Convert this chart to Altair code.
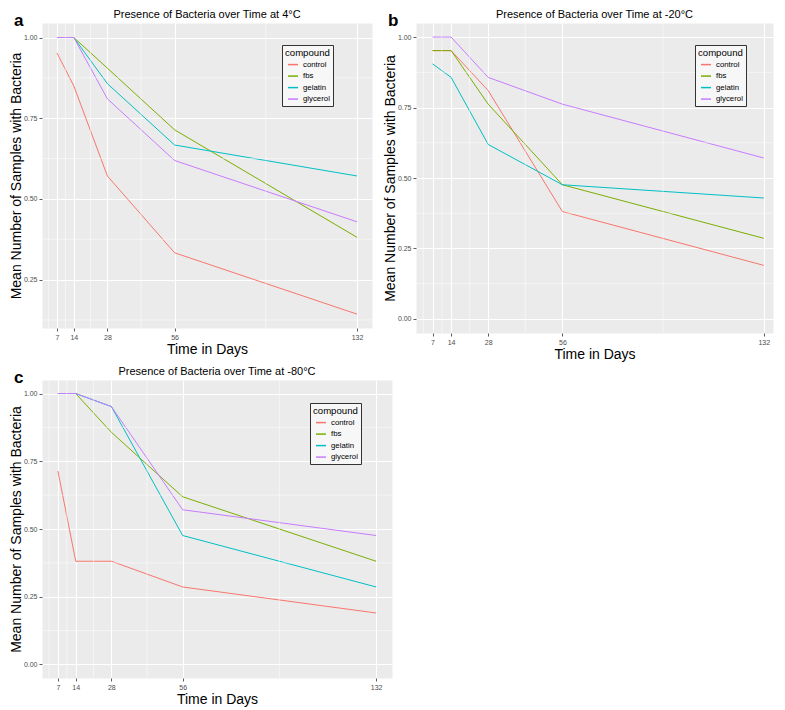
import altair as alt
import pandas as pd

days = [7, 14, 28, 56, 132]
compounds = ["control", "fbs", "gelatin", "glycerol"]
colors = ["#F8766D", "#7CAE00", "#00BFC4", "#C77CFF"]

# Panel a: 4°C
a_control = [0.952, 0.850, 0.571, 0.333, 0.143]
a_fbs = [1.0, 1.0, 0.905, 0.714, 0.381]
a_gelatin = [1.0, 1.0, 0.857, 0.667, 0.571]
a_glycerol = [1.0, 1.0, 0.810, 0.619, 0.429]

# Panel b: -20°C
b_control = [0.952, 0.952, 0.810, 0.381, 0.190]
b_fbs = [0.952, 0.952, 0.762, 0.476, 0.286]
b_gelatin = [0.905, 0.857, 0.619, 0.476, 0.429]
b_glycerol = [1.0, 1.0, 0.857, 0.762, 0.571]

# Panel c: -80°C
c_control = [0.714, 0.381, 0.381, 0.286, 0.190]
c_fbs = [1.0, 1.0, 0.857, 0.619, 0.381]
c_gelatin = [1.0, 1.0, 0.952, 0.476, 0.286]
c_glycerol = [1.0, 1.0, 0.952, 0.571, 0.476]

x_ticks = [7, 14, 28, 56, 132]
x_minor = [3.5, 10.5, 21, 42, 94]
x_domain = [0.75, 138.25]
b_x_domain = [0.75, 135.5]
a_y_ticks = [0.25, 0.5, 0.75, 1.0]
a_y_minor = [0.125, 0.375, 0.625, 0.875]
a_y_domain = [0.1, 1.045]
bc_y_ticks = [0.0, 0.25, 0.5, 0.75, 1.0]
bc_y_minor = [0.125, 0.375, 0.625, 0.875]
bc_y_domain = [-0.05, 1.05]

FONT = "Liberation Sans"
X_TITLE = "Time in Days"
Y_TITLE = "Mean Number of Samples with Bacteria"


def long_df(series):
    rows = []
    for comp, vals in zip(compounds, series):
        for d, v in zip(days, vals):
            rows.append({"day": d, "value": v, "compound": comp})
    return pd.DataFrame(rows)


def panel(letter, title, series, xdom, y_domain, y_ticks, y_minor, width, height, lx, ly):
    xs = alt.Scale(domain=xdom, nice=False, zero=False)
    ys = alt.Scale(domain=y_domain, nice=False, zero=False)
    xax = alt.Axis(values=x_ticks, title=X_TITLE, format="d", titlePadding=2)
    yax = alt.Axis(values=y_ticks, title=Y_TITLE, format=".2f", titlePadding=0)
    df = long_df(series)

    lines = alt.Chart(df).mark_line(strokeWidth=1, clip=True).encode(
        x=alt.X("day:Q", scale=xs, axis=xax),
        y=alt.Y("value:Q", scale=ys, axis=yax),
        color=alt.Color("compound:N",
                        scale=alt.Scale(domain=compounds, range=colors),
                        legend=alt.Legend(orient="none", legendX=lx, legendY=ly,
                                          title="compound")),
    )
    xminor = alt.Chart(pd.DataFrame({"day": x_minor})).mark_rule(
        color="white", strokeWidth=0.5, clip=True
    ).encode(x=alt.X("day:Q", scale=xs, axis=xax))
    yminor = alt.Chart(pd.DataFrame({"value": y_minor})).mark_rule(
        color="white", strokeWidth=0.5, clip=True
    ).encode(y=alt.Y("value:Q", scale=ys, axis=yax))

    lab = alt.Chart(pd.DataFrame({"t": [letter]})).mark_text(
        font=FONT, fontSize=17, fontWeight="bold", align="left", baseline="alphabetic",
        color="black"
    ).encode(x=alt.value(-28), y=alt.value(3), text="t:N")

    return alt.layer(lines, xminor, yminor, lab).properties(
        width=width, height=height,
        title=alt.TitleParams(title, fontSize=11, font=FONT, fontWeight="normal",
                              offset=-8, anchor="middle", color="black"),
    )


pa = panel("a", "Presence of Bacteria over Time at 4°C",
           [a_control, a_fbs, a_gelatin, a_glycerol], x_domain,
           a_y_domain, a_y_ticks, a_y_minor, 330, 305, 240, 22)
pb = panel("b", "Presence of Bacteria over Time at -20°C",
           [b_control, b_fbs, b_gelatin, b_glycerol], b_x_domain,
           bc_y_domain, bc_y_ticks, bc_y_minor, 357, 310, 279, 22)
pc = panel("c", "Presence of Bacteria over Time at -80°C",
           [c_control, c_fbs, c_gelatin, c_glycerol], x_domain,
           bc_y_domain, bc_y_ticks, bc_y_minor, 350, 298, 268, 23)

top = alt.hconcat(pa, pb, spacing=9).resolve_scale(color="independent").resolve_legend(color="independent")
chart = alt.vconcat(top, pc, spacing=3).resolve_scale(color="independent").resolve_legend(
    color="independent"
).properties(
    padding={"left": 0, "top": 0, "right": 0, "bottom": 0}
).configure(
    font=FONT
).configure_view(
    fill="#EBEBEB", stroke="transparent"
).configure_axis(
    grid=True, gridColor="white", gridWidth=1.1, domain=False,
    tickColor="#333333", tickSize=3, tickWidth=0.8,
    labelFontSize=7, labelColor="#4D4D4D", labelPadding=2, labelFont=FONT,
    titleFontSize=14, titleFontWeight="normal", titleColor="black",
    titleFont=FONT,
).configure_legend(
    strokeColor="#333333", fillColor="#F7F7F7", padding=3, cornerRadius=0,
    titleFontSize=9.6, titleFontWeight="normal", titleColor="black", titlePadding=1,
    labelFontSize=7.8, labelColor="black", labelOffset=4, symbolOffset=2,
    symbolType="stroke", symbolSize=100, symbolStrokeWidth=1.5, rowPadding=1.5,
)

chart.save("out.html", embed_options={"renderer": "svg", "actions": False})
